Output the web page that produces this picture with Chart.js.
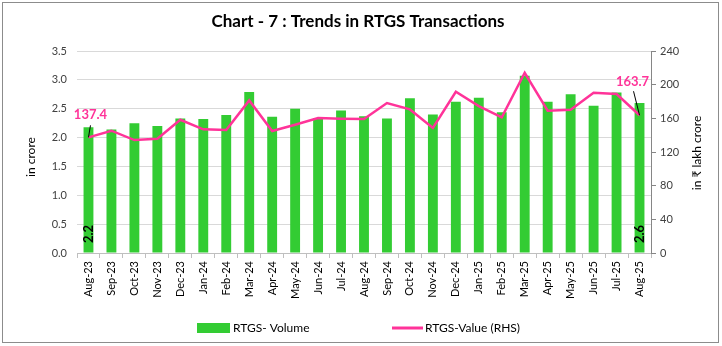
<!DOCTYPE html>
<html>
<head>
<meta charset="utf-8">
<script src="https://cdn.jsdelivr.net/npm/chart.js@4.4.1/dist/chart.umd.min.js"></script>
<style>
  html,body{margin:0;padding:0;background:#fff;}
  #wrap{width:722px;height:346px;position:relative;}
</style>
</head>
<body>
<div id="wrap"><canvas id="c" width="722" height="346"></canvas></div>
<script>
// ---------- Data
const months = ['Aug-23','Sep-23','Oct-23','Nov-23','Dec-23','Jan-24','Feb-24','Mar-24','Apr-24','May-24','Jun-24','Jul-24',
  'Aug-24','Sep-24','Oct-24','Nov-24','Dec-24','Jan-25','Feb-25','Mar-25','Apr-25','May-25','Jun-25','Jul-25','Aug-25'];
const volume = [2.18,2.14,2.25,2.2,2.33,2.32,2.39,2.79,2.36,2.5,2.34,2.47,2.37,2.33,2.68,2.4,2.62,2.69,2.44,3.07,2.62,2.75,2.55,2.78,2.6];
const value = [137.4,145.3,134.2,135.8,158.3,146.9,146.1,181.3,144.9,152.4,160.3,159.5,159.1,178.1,170.6,148.5,191.6,174.5,161.1,214.1,169.0,170.2,190.4,188.8,163.7];
const leftTicks = {min:0, max:3.5, step:0.5};
const rightTicks = {min:0, max:240, step:40};
const volLabels = {0:'2.2', 24:'2.6'};
const valLabels = {0:'137.4', 24:'163.7'};

const GREEN = '#33CC33', PINK = '#FF3399';
const FONT = 'Lato, "Open Sans", sans-serif';

// ---------- Helpers
const extras = {
  id:'extras',
  afterDatasetsDraw(chart){
    const ctx = chart.ctx;
    const barMeta = chart.getDatasetMeta(1), lineMeta = chart.getDatasetMeta(0);
    ctx.save();
    // volume labels inside base
    ctx.fillStyle = '#000'; ctx.font = 'bold 13px '+FONT; ctx.textAlign='center'; ctx.textBaseline='middle';
    Object.keys(volLabels).forEach(i=>{
      const el = barMeta.data[i];
      ctx.save(); ctx.translate(el.x, chart.chartArea.bottom-19); ctx.rotate(-Math.PI/2);
      ctx.fillText(volLabels[i],0,0); ctx.restore();
    });
    // value labels with leader lines
    ctx.font = 'bold 13px '+FONT; ctx.fillStyle = PINK;
    const offs = {0:{dx:2,dy:-23,lx:2,ly:-12}, 24:{dx:-7,dy:-33,lx:-6,ly:-24}};
    Object.keys(valLabels).forEach(i=>{
      const p = lineMeta.data[i], o = offs[i];
      ctx.fillText(valLabels[i], p.x+o.dx, p.y+o.dy);
      ctx.strokeStyle='#000'; ctx.lineWidth=1;
      ctx.beginPath(); ctx.moveTo(p.x+o.lx, p.y+o.ly); ctx.lineTo(p.x, p.y); ctx.stroke();
    });
    ctx.restore();
  },
  afterDraw(chart){
    const ctx = chart.ctx;
    ctx.save();
    // border
    ctx.strokeStyle='#8C8C8C'; ctx.lineWidth=1; ctx.strokeRect(2.5,2.5,716,340);
    // title
    ctx.fillStyle='#000'; ctx.font='bold 17px '+FONT; ctx.textAlign='center'; ctx.textBaseline='middle';
    ctx.fillText('Chart - 7 : Trends in RTGS Transactions', 358, 22);
    // axis titles
    ctx.font='12px '+FONT; ctx.fillStyle='#000';
    ctx.save(); ctx.translate(31,157); ctx.rotate(-Math.PI/2); ctx.fillText('in crore',0,0); ctx.restore();
    ctx.save(); ctx.translate(697,153); ctx.rotate(-Math.PI/2); ctx.fillText('in \u20B9 lakh crore',0,0); ctx.restore();
    // legend
    const ds = chart.data.datasets;
    ctx.textAlign='left'; ctx.font='12px '+FONT;
    ctx.fillStyle=ds[1].backgroundColor; ctx.fillRect(197,323,33,10);
    ctx.fillStyle='#000'; ctx.fillText(ds[1].label, 233, 328);
    ctx.strokeStyle=ds[0].borderColor; ctx.lineWidth=3;
    ctx.beginPath(); ctx.moveTo(392,328); ctx.lineTo(423,328); ctx.stroke();
    ctx.fillStyle='#000'; ctx.fillText(ds[0].label, 425, 328);
    ctx.restore();
  }
};

// ---------- Chart
new Chart(document.getElementById('c'), {
  data:{
    labels: months,
    datasets:[
      {type:'line', label:'RTGS-Value (RHS)', data:value, yAxisID:'yR', borderColor:PINK, borderWidth:2.5, pointRadius:0, tension:0, order:0},
      {type:'bar', label:'RTGS- Volume', data:volume, yAxisID:'yL', backgroundColor:GREEN, barPercentage:0.43, categoryPercentage:1, order:1}
    ]
  },
  options:{
    responsive:false, animation:false, devicePixelRatio:1,
    layout:{padding:{left:0,right:0,top:51,bottom:0}},
    plugins:{legend:{display:false}, title:{display:false}, tooltip:{enabled:false}},
    scales:{
      x:{
        grid:{display:true, drawOnChartArea:false, tickLength:5, color:'#BFBFBF', offset:true},
        border:{display:true, color:'#BFBFBF'},
        ticks:{color:'#000', font:{family:FONT, size:11}, minRotation:90, maxRotation:90, padding:3, autoSkip:false},
        afterFit(s){ s.height = 93; }
      },
      yL:{
        position:'left', min:leftTicks.min, max:leftTicks.max,
        grid:{color:'#D9D9D9', drawTicks:false},
        border:{display:false},
        ticks:{stepSize:leftTicks.step, padding:10, color:'#404040', font:{family:FONT, size:11}, callback:v=>v.toFixed(1)},
        afterFit(s){ s.width = 77; }
      },
      yR:{
        position:'right', min:rightTicks.min, max:rightTicks.max,
        grid:{drawOnChartArea:false, tickLength:5, color:'#868686'},
        border:{display:true, color:'#868686'},
        ticks:{stepSize:rightTicks.step, padding:4, color:'#404040', font:{family:FONT, size:11}},
        afterFit(s){ s.width = 71; }
      }
    }
  },
  plugins:[extras]
});
</script>
</body>
</html>
